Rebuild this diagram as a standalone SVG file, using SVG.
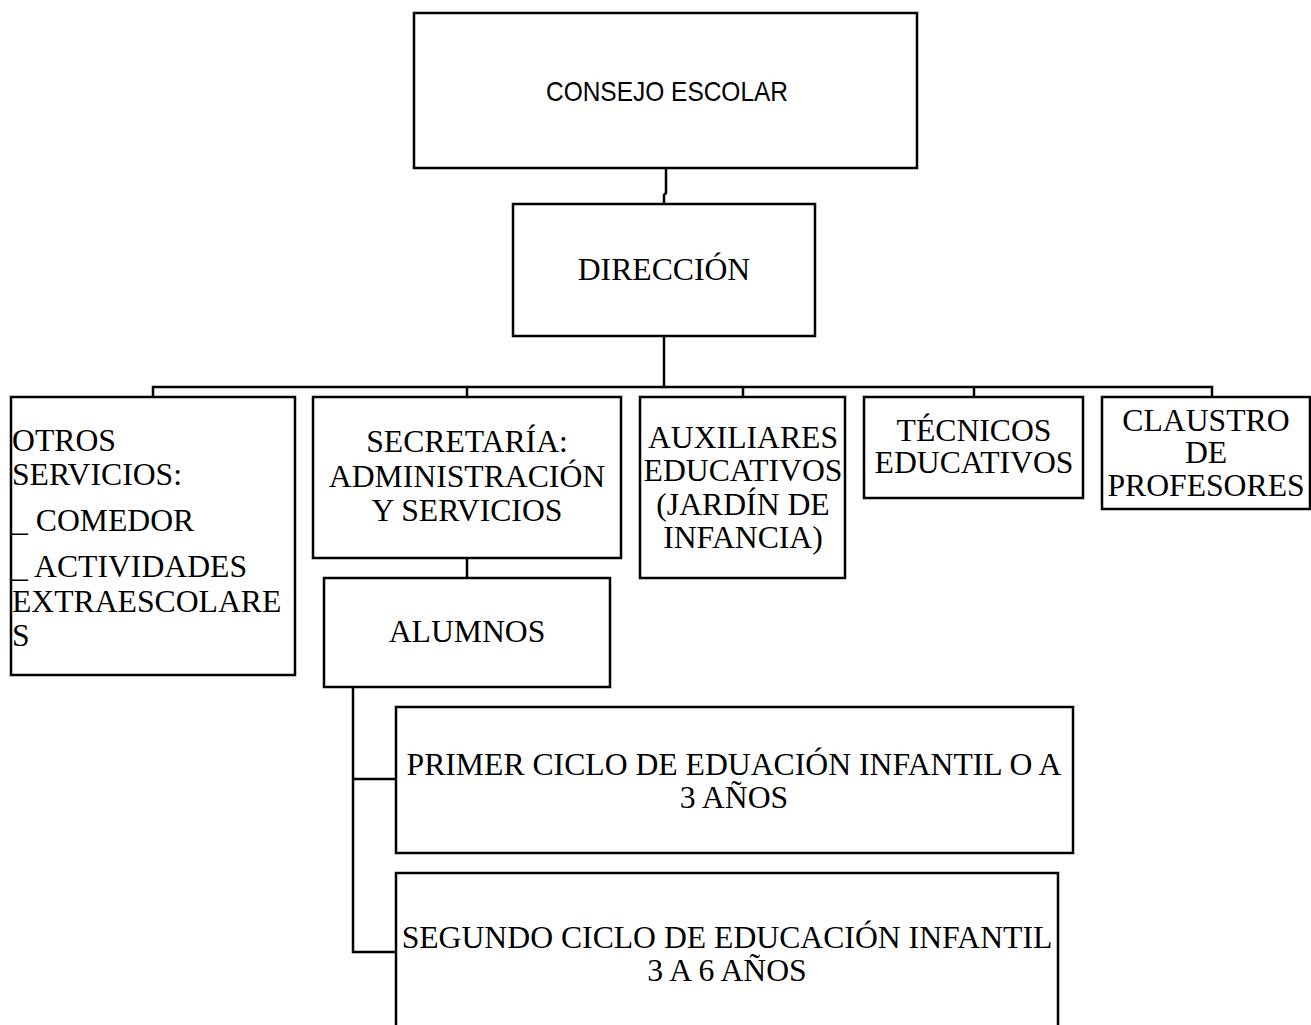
<svg xmlns="http://www.w3.org/2000/svg" width="1311" height="1025" viewBox="0 0 1311 1025">
<style>
.box{fill:#fff;stroke:#000;stroke-width:2.5}
.ln{fill:none;stroke:#000;stroke-width:2.5}
.t{font-family:"Liberation Serif","Times New Roman",serif;font-size:31.7px;fill:#000}
.c{text-anchor:middle}
.s{font-family:"Liberation Sans",Arial,sans-serif;font-size:27.5px;fill:#000;text-anchor:middle}
</style>
<rect width="1311" height="1025" fill="#fff"/>
<g id="connectors">
<path class="ln" d="M666 168 V193 L664 195 V204"/>
<path class="ln" d="M664 336 V387"/>
<path class="ln" d="M153 397 V387 H1212 V397"/>
<path class="ln" d="M467 387 V397"/>
<path class="ln" d="M743 387 V397"/>
<path class="ln" d="M974 387 V397"/>
<path class="ln" d="M467 558 V578"/>
<path class="ln" d="M353 687 V952 H396"/>
<path class="ln" d="M353 779 H396"/>
</g>
<g id="consejo">
<rect class="box" x="414" y="13" width="503" height="155"/>
<text class="s" x="667" y="101" textLength="242" lengthAdjust="spacingAndGlyphs">CONSEJO ESCOLAR</text>
</g>
<g id="direccion">
<rect class="box" x="513" y="204" width="302" height="132"/>
<text class="t c" x="664" y="280">DIRECCIÓN</text>
</g>
<g id="otros">
<rect class="box" x="11" y="397" width="284" height="278"/>
<text class="t" x="12" y="451">OTROS</text>
<text class="t" x="12" y="485">SERVICIOS:</text>
<text class="t" x="12" y="531">_ COMEDOR</text>
<text class="t" x="12" y="577">_ ACTIVIDADES</text>
<text class="t" x="12" y="612">EXTRAESCOLARE</text>
<text class="t" x="12" y="646">S</text>
</g>
<g id="secretaria">
<rect class="box" x="313" y="397" width="308" height="161"/>
<text class="t c" x="467" y="452">SECRETARÍA:</text>
<text class="t c" x="467" y="487">ADMINISTRACIÓN</text>
<text class="t c" x="467" y="521">Y SERVICIOS</text>
</g>
<g id="auxiliares">
<rect class="box" x="640" y="397" width="205" height="181"/>
<text class="t c" x="743" y="448">AUXILIARES</text>
<text class="t c" x="743" y="481">EDUCATIVOS</text>
<text class="t c" x="743" y="515">(JARDÍN DE</text>
<text class="t c" x="743" y="548">INFANCIA)</text>
</g>
<g id="tecnicos">
<rect class="box" x="864" y="397" width="219" height="101"/>
<text class="t c" x="974" y="441">TÉCNICOS</text>
<text class="t c" x="974" y="473">EDUCATIVOS</text>
</g>
<g id="claustro">
<rect class="box" x="1102" y="397" width="208" height="112"/>
<text class="t c" x="1206" y="431">CLAUSTRO</text>
<text class="t c" x="1206" y="463">DE</text>
<text class="t c" x="1206" y="496">PROFESORES</text>
</g>
<g id="alumnos">
<rect class="box" x="324" y="578" width="286" height="109"/>
<text class="t c" x="467" y="642">ALUMNOS</text>
</g>
<g id="primer">
<rect class="box" x="396" y="707" width="677" height="146"/>
<text class="t c" x="734" y="775">PRIMER CICLO DE EDUACIÓN INFANTIL O A</text>
<text class="t c" x="734" y="808">3 AÑOS</text>
</g>
<g id="segundo">
<rect class="box" x="396" y="873" width="662" height="170"/>
<text class="t c" x="727" y="948">SEGUNDO CICLO DE EDUCACIÓN INFANTIL</text>
<text class="t c" x="727" y="981">3 A 6 AÑOS</text>
</g>
</svg>
